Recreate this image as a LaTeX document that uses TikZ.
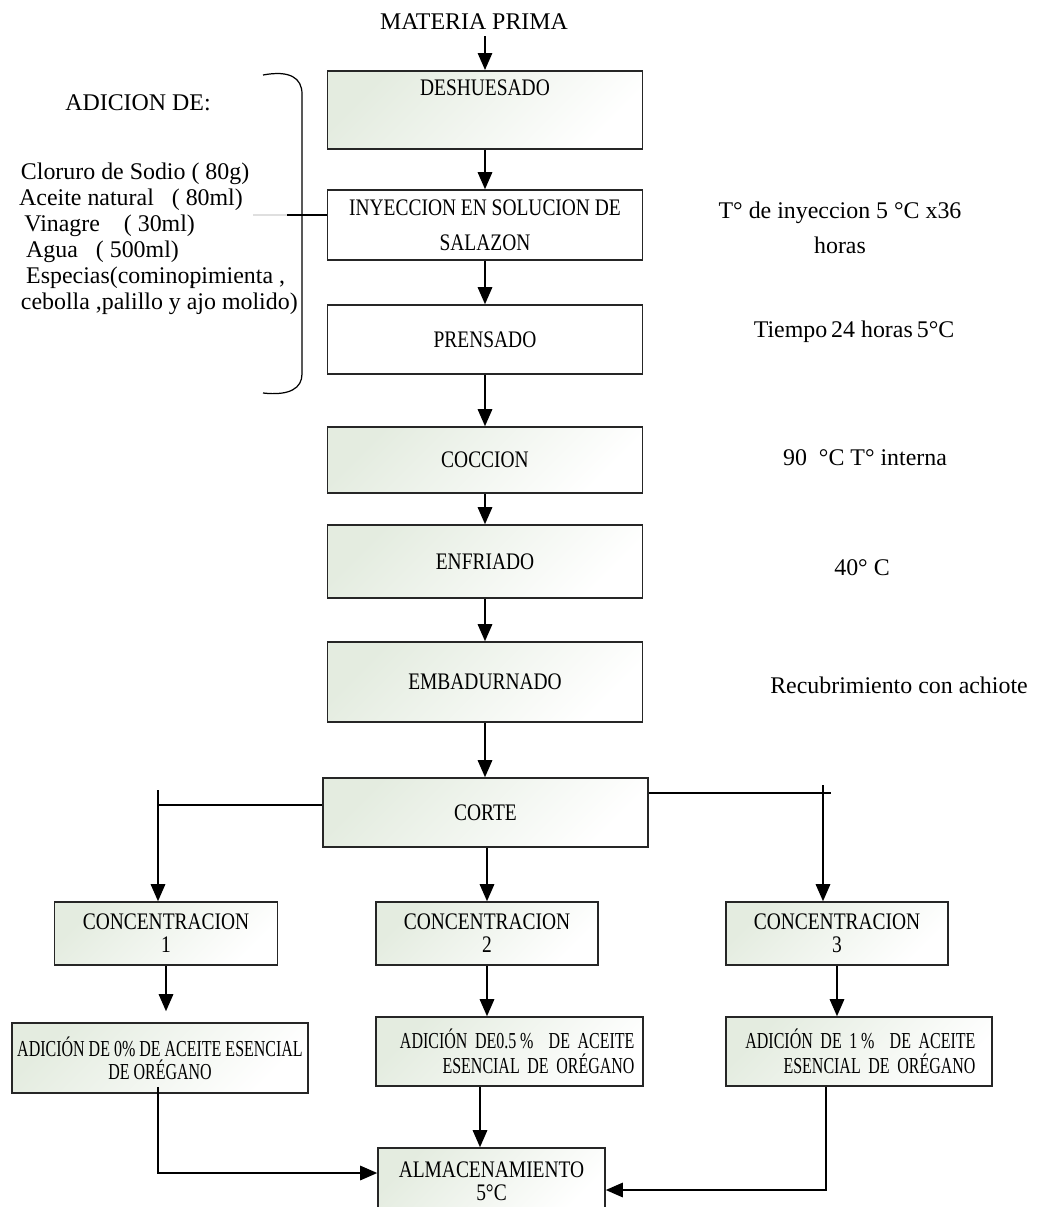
\documentclass[tikz,border=0pt]{standalone}
\usepackage{fontspec}
\setmainfont{Liberation Serif}
\newfontfamily\boxfont[FakeStretch=0.82]{Liberation Serif}
\newfontfamily\narrowfont[FakeStretch=0.7]{Liberation Serif}
\usetikzlibrary{arrows.meta,positioning}
\definecolor{boxgreen}{HTML}{E4ECE0}
\newdimen\px \px=0.02cm

\begin{document}
\begin{tikzpicture}[
    x=0.02cm, y=-0.02cm,
    boxbase/.style={
      draw=black!85,
      line width=0.9pt,
      align=center,
      inner sep=0pt,
      font=\boxfont\fontsize{13.5}{13}\selectfont
    },
    plainbox/.style={boxbase, minimum width=315\px},
    shadebox/.style={boxbase, top color=boxgreen, bottom color=white, shading angle=45},
    smallbox/.style={shadebox, font=\narrowfont\fontsize{13}{13}\selectfont},
    note/.style={font=\fontsize{13.6}{16.5}\selectfont, align=center},
    flow/.style={-{Triangle[length=3.4mm,width=2.9mm]}, line width=0.8pt},
    wire/.style={line width=0.8pt}
  ]
    \useasboundingbox (0,0) rectangle (1040,1207);

    % main chain
    \node[note] (mp) at (474,22) {MATERIA PRIMA};
    \node[shadebox, minimum width=315\px, anchor=north, text height=25\px, text depth=53\px] (desh) at (485,70) {DESHUESADO};
    \node[plainbox, minimum height=70\px] (iny) at (485,225) {INYECCION EN SOLUCION DE\\[7pt]SALAZON};
    \node[plainbox, minimum height=69\px] (prens) at (485,339.5) {PRENSADO};
    \node[shadebox, minimum width=315\px, minimum height=66\px] (cocc) at (485,460) {COCCION};
    \node[shadebox, minimum width=315\px, minimum height=73\px] (enfr) at (485,561.5) {ENFRIADO};
    \node[shadebox, minimum width=315\px, minimum height=80\px] (emb) at (485,682) {EMBADURNADO};
    \node[shadebox, minimum width=325\px, minimum height=69\px] (corte) at (485.5,812.5) {CORTE};

    % three concentrations
    \node[shadebox, minimum width=223\px, minimum height=63\px] (conc1) at (166,933.5) {CONCENTRACION\\1};
    \node[shadebox, minimum width=222\px, minimum height=63\px] (conc2) at (487,933.5) {CONCENTRACION\\2};
    \node[shadebox, minimum width=222\px, minimum height=63\px] (conc3) at (837,933.5) {CONCENTRACION\\3};
    \node[smallbox, minimum width=296\px, minimum height=70\px] (ad1) at (160,1058) {ADICIÓN DE 0\% DE ACEITE ESENCIAL\\DE ORÉGANO};
    \node[smallbox, minimum width=267\px, minimum height=69\px, text width=250\px, align=right] (ad2) at (509.5,1051.5) {ADICIÓN DE0.5\,\%\ \ DE ACEITE\\[1pt]ESENCIAL DE ORÉGANO};
    \node[smallbox, minimum width=266\px, minimum height=69\px, text width=233\px, align=right] (ad3) at (859,1051.5) {ADICIÓN DE 1\,\%\ \ DE ACEITE\\[1pt]ESENCIAL DE ORÉGANO};
    \node[shadebox, minimum width=227\px, minimum height=67\px] (alm) at (491.5,1181.5) {ALMACENAMIENTO\\5°C};

    % ingredients on the left
    \node[note] (adic) at (138,103) {ADICION DE:};
    \node[note, align=left, anchor=west, font=\fontsize{13.6}{14.8}\selectfont] (insumos) at (13,238.5) {\kern1pt Cloruro de Sodio\ ( 80g)\\Aceite natural\ \ \ ( 80ml)\\\kern3pt Vinagre\ \ \ \ ( 30ml)\\\kern4pt Agua\ \ \ ( 500ml)\\\kern4pt Especias(comino\rlap{,}pimienta\ ,\\\kern1pt cebolla ,palillo y ajo molido)};
    \draw[line width=0.7pt] (263,75) .. controls (290,70) and (302,78) .. (302,94) -- (302,374) .. controls (302,388) and (290,396) .. (263,393);
    \coordinate (brk) at (287,215);
    \draw[gray!25, line width=0.8pt] (253,215) -- (brk);
    \draw[wire] (brk) -- (iny.west |- brk);

    % conditions on the right
    \node[note] (tiny) at (840,227.5) {T° de inyeccion 5 °C x36\\[3.3pt]horas};
    \node[note] (tprens) at (854,332) {Tiempo\,24 horas\,5°C};
    \node[note] (tcocc) at (865,458) {90\ \ °C T° interna};
    \node[note] (tenfr) at (862,568) {40° C};
    \node[note] (temb) at (899,685) {Recubrimiento con achiote};

    % arrows
    \draw[flow] (mp.south -| desh.north) -- (desh.north);
    \draw[flow] (desh) -- (iny);
    \draw[flow] (iny) -- (prens);
    \draw[flow] (prens) -- (cocc);
    \draw[flow] (cocc) -- (enfr);
    \draw[flow] (enfr) -- (emb);
    \draw[flow] (emb.south) -- (emb.south |- corte.north);
    \coordinate (lsplit) at (158,805);
    \coordinate (rsplit) at (823,793);
    \draw[wire] (corte.west |- lsplit) -- (lsplit);
    \draw[flow] ([yshift=15\px]lsplit) -- (lsplit |- conc1.north);
    \draw[wire] (corte.east |- rsplit) -- ([xshift=8\px]rsplit);
    \draw[flow] ([yshift=8\px]rsplit) -- (rsplit |- conc3.north);
    \draw[flow] (corte.south -| conc2.north) -- (conc2.north);
    \draw[flow] (conc1.south) -- ([yshift=11\px]conc1.south |- ad1.north);
    \draw[flow] (conc2.south) -- (conc2.south |- ad2.north);
    \draw[flow] (conc3.south) -- (conc3.south |- ad3.north);
    \draw[flow] ([yshift=7\px]ad1.south -| lsplit) |- ([yshift=8.5\px]alm.west);
    \draw[flow] ([xshift=-11.5\px]ad2.south -| alm.north) -- ([xshift=-11.5\px]alm.north);
    \draw[flow] ([xshift=3\px]ad3.south -| rsplit) |- ([yshift=-8.5\px]alm.east);
\end{tikzpicture}
\end{document}
